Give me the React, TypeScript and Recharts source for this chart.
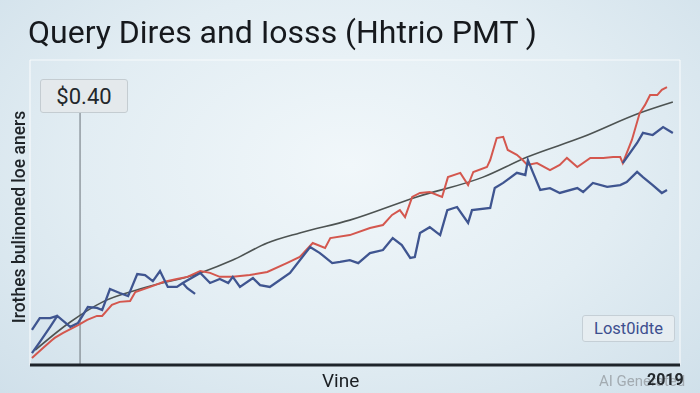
import {
  LineChart,
  Line,
  XAxis,
  YAxis,
  CartesianGrid,
  ReferenceLine,
} from "recharts";

// x positions are "days" on a 0–100 scale, y values are index points
const redDays = [0.3, 2.0, 3.4, 3.8, 5.1, 7.4, 8.8, 10.3, 11.1, 12.6, 13.8, 15.4, 16.2, 18.5, 20.5, 22.6, 24.2, 26.2, 27.7, 29.2, 31.2, 33.8, 36.5, 39.5, 41.5, 43.5, 45.4, 46.2, 49.2, 52.3, 54.3, 55.7, 56.9, 57.7, 58.8, 60.0, 61.5, 63.4, 64.3, 66.2, 67.4, 68.2, 70.3, 70.8, 71.8, 72.8, 73.5, 74.9, 75.8, 76.5, 78.0, 80.0, 81.5, 82.6, 84.2, 86.2, 88.2, 89.7, 90.8, 91.2, 92.6, 93.8, 94.6, 95.4, 96.5, 97.2, 98.0];
const redValues = [2.3, 5.6, 8.2, 8.9, 10.5, 13.1, 14.8, 16.1, 16.1, 19.7, 20.7, 21.0, 23.9, 25.6, 27.2, 28.2, 28.9, 30.8, 30.2, 28.9, 28.9, 29.5, 30.5, 33.4, 35.4, 40.0, 38.4, 41.6, 42.6, 44.9, 45.9, 49.2, 50.8, 48.5, 55.1, 56.4, 56.7, 55.1, 61.6, 63.0, 59.0, 63.3, 64.9, 67.2, 74.4, 74.8, 70.5, 68.9, 67.2, 65.6, 66.2, 63.9, 65.6, 67.9, 64.9, 67.9, 67.9, 68.2, 68.2, 66.2, 73.8, 82.6, 85.2, 88.5, 88.5, 90.2, 91.1];

const blueDays = [0.3, 1.5, 3.1, 4.2, 6.2, 7.4, 8.9, 10.3, 11.1, 12.3, 13.8, 15.1, 16.5, 17.7, 18.9, 20.0, 21.2, 22.6, 23.5, 26.2, 27.7, 29.2, 30.5, 31.2, 32.3, 34.3, 35.4, 36.9, 38.0, 40.0, 43.1, 44.6, 46.5, 47.7, 49.2, 50.5, 52.3, 54.3, 55.8, 57.2, 58.5, 59.2, 60.0, 61.5, 63.1, 64.2, 65.7, 67.4, 68.0, 70.8, 71.5, 72.8, 74.9, 76.2, 76.6, 77.4, 78.5, 80.0, 81.5, 84.2, 85.1, 86.6, 88.8, 90.8, 91.8, 93.4, 94.3, 95.8, 97.2, 98.0];
const blueValues = [3.9, 7.5, 12.5, 16.1, 12.5, 13.8, 19.0, 18.7, 18.0, 24.9, 23.6, 22.6, 29.8, 29.5, 27.5, 30.8, 25.6, 25.6, 26.9, 30.2, 26.9, 28.2, 26.9, 28.9, 25.6, 28.5, 26.2, 25.6, 27.2, 30.2, 38.7, 36.7, 33.4, 33.8, 34.4, 33.4, 36.7, 37.7, 41.6, 39.3, 35.1, 35.4, 43.3, 45.2, 42.6, 50.8, 51.8, 46.6, 50.8, 51.5, 58.0, 59.7, 63.0, 62.3, 67.2, 63.0, 57.4, 58.0, 56.4, 58.0, 56.7, 59.7, 58.4, 59.0, 60.0, 63.3, 61.6, 59.0, 56.4, 57.4];

// stray blue strands
const blueStartDays = [0.3, 1.5, 3.1, 4.2];
const blueStartValues = [11.5, 15.4, 15.4, 16.1];
const blueSpurDays = [23.5, 24.2, 25.4];
const blueSpurValues = [26.9, 25.2, 23.3];
const blueHighDays = [91.2, 93.4, 94.3, 95.8, 97.4, 98.2, 98.9];
const blueHighValues = [66.2, 72.8, 76.1, 75.4, 78.0, 77.0, 76.1];

const trendDays = [0.8, 6.2, 11.2, 16.9, 26.2, 31.2, 36.5, 41.5, 49.2, 59.5, 69.7, 76.5, 85.1, 93.8, 98.9];
const trendValues = [4.9, 14.1, 20.7, 24.9, 30.2, 34.4, 40.0, 43.3, 47.5, 55.1, 61.6, 68.2, 74.8, 82.6, 86.2];

const xTicks = [0, 5, 10, 15, 20, 25, 30, 35, 40, 45, 50, 55, 60, 65, 70, 75, 80, 85, 90, 95, 100];
const yTicks = [0, 10, 20, 30, 40, 50, 60, 70, 80, 90, 100];

const markerDay = 7.7;
const markerTop = 82.6;

const zip = (xs: number[], ys: number[]) => xs.map((x, i) => ({ x, y: ys[i] }));

export default function App() {
  return (
    <div
      style={{
        position: "fixed",
        top: 0,
        left: 0,
        width: 700,
        height: 393,
        overflow: "hidden",
        background:
          "radial-gradient(ellipse at 50% 42%, #f1f7fa 0%, #e2edf3 55%, #d0e0ea 100%)",
        fontFamily: "Roboto, sans-serif",
      }}
    >
      <LineChart
        width={700}
        height={393}
        margin={{ top: 60, right: 20, bottom: 27, left: 30 }}
      >
        <CartesianGrid stroke="#ffffff" strokeOpacity={0.75} strokeWidth={1.2} />
        <XAxis
          type="number"
          dataKey="x"
          domain={[0, 100]}
          ticks={xTicks}
          tick={false}
          tickLine={false}
          height={1}
          axisLine={{ stroke: "#1e242a", strokeWidth: 3 }}
        />
        <YAxis
          type="number"
          dataKey="y"
          domain={[0, 100]}
          ticks={yTicks}
          width={0}
          tick={false}
          tickLine={false}
          axisLine={false}
        />
        <ReferenceLine
          segment={[
            { x: markerDay, y: 0 },
            { x: markerDay, y: markerTop },
          ]}
          stroke="#7d868c"
          strokeWidth={1.2}
        />
        <Line
          data={zip(trendDays, trendValues)}
          dataKey="y"
          type="monotone"
          stroke="#4d5352"
          strokeWidth={1.6}
          dot={false}
          isAnimationActive={false}
        />
        <Line
          data={zip(redDays, redValues)}
          dataKey="y"
          type="linear"
          stroke="#d4574e"
          strokeWidth={2}
          dot={false}
          isAnimationActive={false}
        />
        <Line
          data={zip(blueStartDays, blueStartValues)}
          dataKey="y"
          type="linear"
          stroke="#3f5590"
          strokeWidth={2.3}
          dot={false}
          isAnimationActive={false}
        />
        <Line
          data={zip(blueSpurDays, blueSpurValues)}
          dataKey="y"
          type="linear"
          stroke="#3f5590"
          strokeWidth={2.3}
          dot={false}
          isAnimationActive={false}
        />
        <Line
          data={zip(blueDays, blueValues)}
          dataKey="y"
          type="linear"
          stroke="#3f5590"
          strokeWidth={2.3}
          dot={false}
          isAnimationActive={false}
        />
        <Line
          data={zip(blueHighDays, blueHighValues)}
          dataKey="y"
          type="linear"
          stroke="#3f5590"
          strokeWidth={2.3}
          dot={false}
          isAnimationActive={false}
        />
      </LineChart>

      <div
        style={{
          position: "absolute",
          left: 28,
          top: 13,
          fontSize: 32,
          color: "#16191d",
          whiteSpace: "nowrap",
        }}
      >
        Query Dires and Iosss (Hhtrio PMT )
      </div>

      <div
        style={{
          position: "absolute",
          left: 40,
          top: 79,
          width: 86,
          height: 32,
          background: "#e4e9ec",
          border: "1px solid #c4ccd1",
          borderRadius: 3,
          display: "flex",
          alignItems: "center",
          justifyContent: "center",
          fontSize: 22,
          color: "#22272b",
        }}
      >
        $0.40
      </div>

      <div
        style={{
          position: "absolute",
          left: 19,
          top: 217,
          transform: "translate(-50%, -50%) rotate(-90deg)",
          fontSize: 17.5,
          fontWeight: 500,
          color: "#1f2428",
          whiteSpace: "nowrap",
        }}
      >
        Irothes bulinoned loe aners
      </div>

      <div
        style={{
          position: "absolute",
          left: 582,
          top: 315,
          width: 91,
          height: 25,
          background: "#e6edf1",
          border: "1px solid #c5cfd6",
          borderRadius: 3,
          display: "flex",
          alignItems: "center",
          justifyContent: "center",
          fontSize: 16.5,
          color: "#3d4f8f",
        }}
      >
        Lost0idte
      </div>

      <div
        style={{
          position: "absolute",
          left: 322,
          top: 369,
          fontSize: 19,
          color: "#1b1f23",
        }}
      >
        Vine
      </div>
      <div
        style={{
          position: "absolute",
          left: 599,
          top: 372,
          fontSize: 15,
          color: "#a3abb1",
          whiteSpace: "nowrap",
        }}
      >
        AI Generated
      </div>
      <div
        style={{
          position: "absolute",
          left: 647,
          top: 370,
          fontSize: 16,
          fontWeight: 700,
          color: "#23282c",
        }}
      >
        2019
      </div>
    </div>
  );
}
